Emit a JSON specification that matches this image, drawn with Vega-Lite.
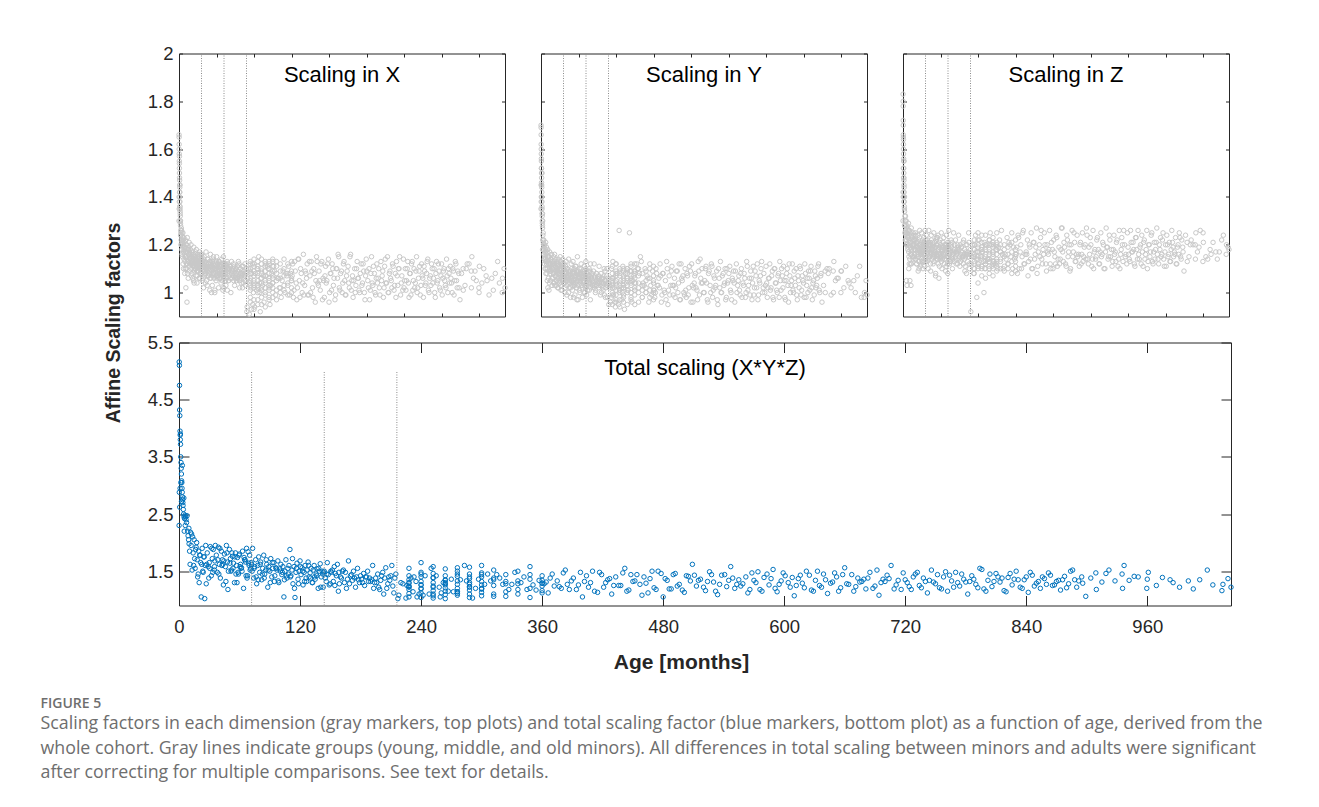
{
"$schema": "https://vega.github.io/schema/vega-lite/v6.json",
"padding": {"left": 40, "top": 43.5, "right": 10, "bottom": 10},
"config": {
  "font": "Liberation Sans",
  "view": {"stroke": "#262626", "strokeWidth": 1},
  "axis": {"grid": false, "domain": false, "tickColor": "#262626", "tickWidth": 1, "labelColor": "#262626", "labelFont": "Liberation Sans", "labelFontSize": 18.5, "labelFlush": false, "labelOverlap": false, "titleFont": "Liberation Sans", "titleColor": "#262626", "titleFontWeight": "bold"}
},
"title": {
  "text": "FIGURE 5",
  "subtitle": ["Scaling factors in each dimension (gray markers, top plots) and total scaling factor (blue markers, bottom plot) as a function of age, derived from the", "whole cohort. Gray lines indicate groups (young, middle, and old minors). All differences in total scaling between minors and adults were significant", "after correcting for multiple comparisons. See text for details."],
  "orient": "bottom", "anchor": "start", "frame": "bounds", "offset": 24, "dx": -62,
  "font": "Open Sans", "fontSize": 14, "fontWeight": 600, "color": "#6e6e6e",
  "subtitleFont": "Open Sans", "subtitleFontSize": 17.8, "subtitleColor": "#6e6e6e", "subtitleLineHeight": 24.5, "subtitlePadding": 4
},
"data": {"values": [
{"a":0.2,"x":1.66,"y":1.7,"z":1.83,"t":5.16},
{"a":0.4,"x":1.65,"y":1.69,"z":1.8,"t":5.1},
{"a":0.5,"x":1.62,"y":1.66,"z":1.78,"t":4.75},
{"a":0.6,"x":1.6,"y":1.62,"z":1.72,"t":4.32},
{"a":0.8,"x":1.58,"y":1.6,"z":1.7,"t":4.22},
{"a":1,"x":1.55,"y":1.58,"z":1.66,"t":3.95},
{"a":1.2,"x":1.54,"y":1.56,"z":1.65,"t":3.88},
{"a":1.3,"x":1.52,"y":1.55,"z":1.62,"t":3.8},
{"a":1.5,"x":1.5,"y":1.52,"z":1.6,"t":3.72},
{"a":1.7,"x":1.48,"y":1.5,"z":1.58,"t":3.5},
{"a":2,"x":1.47,"y":1.48,"z":1.56,"t":3.4},
{"a":2.2,"x":1.45,"y":1.45,"z":1.55,"t":3.3},
{"a":2.4,"x":1.44,"y":1.44,"z":1.52,"t":3.2},
{"a":2.6,"x":1.42,"y":1.42,"z":1.5,"t":3.08},
{"a":2.8,"x":1.4,"y":1.4,"z":1.48,"t":3.05},
{"a":3,"x":1.38,"y":1.38,"z":1.47,"t":2.95},
{"a":3.2,"x":1.36,"y":1.36,"z":1.45,"t":2.88},
{"a":3.4,"x":1.35,"y":1.35,"z":1.44,"t":2.8},
{"a":3.6,"x":1.34,"y":1.33,"z":1.42,"t":2.75},
{"a":3.8,"x":1.33,"y":1.32,"z":1.4,"t":2.7},
{"a":4,"x":1.32,"y":1.3,"z":1.38,"t":2.65},
{"a":4.3,"x":1.3,"y":1.29,"z":1.36,"t":2.58},
{"a":4.6,"x":1.29,"y":1.28,"z":1.35,"t":2.5},
{"a":5,"x":1.28,"y":1.27,"z":1.34,"t":2.45},
{"a":0.3,"x":1.4,"y":1.45,"z":1.42,"t":2.88},
{"a":0.7,"x":1.35,"y":1.38,"z":1.4,"t":2.62},
{"a":1.1,"x":1.38,"y":1.4,"z":1.52,"t":2.95},
{"a":0.1,"x":1.3,"y":1.35,"z":1.3,"t":2.3},
{"a":1.8,"x":1.42,"y":1.46,"z":1.48,"t":3.05},
{"a":2.5,"x":1.36,"y":1.4,"z":1.38,"t":2.72},
{"a":5.5,"x":1.26,"y":1.3,"z":1.28,"t":2.42},
{"a":6,"x":1.25,"y":1.24,"z":1.32,"t":2.48},
{"a":3.3,"x":1.45,"y":1.5,"z":1.55,"t":3.35},
{"a":4.8,"x":1.3,"y":1.33,"z":1.4,"t":2.78},
{"a":1.4,"x":1.57,"y":1.52,"z":1.64,"t":3.9},
{"a":6.5,"x":1.24,"y":1.22,"z":1.3,"t":2.45},
{"a":7,"x":1.22,"y":1.25,"z":1.28,"t":2.4},
{"a":8,"x":1.26,"y":1.2,"z":1.32,"t":2.47},
{"a":8.5,"x":1.2,"y":1.18,"z":1.26,"t":2.2},
{"a":9,"x":1.18,"y":1.22,"z":1.25,"t":2.12},
{"a":9.5,"x":1.25,"y":1.16,"z":1.3,"t":2.05},
{"a":10,"x":1.21,"y":1.19,"z":1.24,"t":1.98},
{"a":11,"x":1.15,"y":1.12,"z":1.05,"t":1.62},
{"a":11.5,"x":1.23,"y":1.2,"z":1.27,"t":2.18},
{"a":12,"x":1.19,"y":1.15,"z":1.22,"t":1.95},
{"a":13,"x":1.12,"y":1.1,"z":1.03,"t":1.52},
{"a":13.5,"x":1.22,"y":1.18,"z":1.25,"t":2.1},
{"a":14,"x":1.17,"y":1.14,"z":1.2,"t":1.82},
{"a":15,"x":1.2,"y":1.21,"z":1.23,"t":2.05},
{"a":16,"x":1.14,"y":1.1,"z":1.19,"t":1.55},
{"a":16.5,"x":1.18,"y":1.16,"z":1.24,"t":1.88},
{"a":17,"x":1.21,"y":1.13,"z":1.26,"t":1.92},
{"a":18,"x":1.16,"y":1.12,"z":1.17,"t":1.7},
{"a":19,"x":1.13,"y":1.08,"z":1.15,"t":1.45},
{"a":19.5,"x":1.19,"y":1.17,"z":1.22,"t":1.85},
{"a":20,"x":1.1,"y":1.05,"z":1.12,"t":1.3},
{"a":21,"x":1.17,"y":1.15,"z":1.2,"t":1.78},
{"a":22,"x":1.02,"y":1.02,"z":1.05,"t":1.05},
{"a":22.5,"x":1.15,"y":1.13,"z":1.21,"t":1.62},
{"a":23,"x":1.2,"y":1.14,"z":1.25,"t":1.9},
{"a":24,"x":1.12,"y":1.09,"z":1.16,"t":1.48},
{"a":25,"x":1.17,"y":1.12,"z":1.21,"t":1.75},
{"a":25.5,"x":0.96,"y":1.01,"z":1.03,"t":1.02},
{"a":26,"x":1.14,"y":1.15,"z":1.18,"t":1.6},
{"a":27,"x":1.08,"y":1.04,"z":1.12,"t":1.28},
{"a":28,"x":1.18,"y":1.1,"z":1.24,"t":1.82},
{"a":29,"x":1.13,"y":1.12,"z":1.17,"t":1.58},
{"a":30,"x":1.16,"y":1.08,"z":1.2,"t":1.65},
{"a":31,"x":1.19,"y":1.14,"z":1.23,"t":1.93},
{"a":32,"x":1.11,"y":1.09,"z":1.14,"t":1.42},
{"a":33,"x":1.15,"y":1.11,"z":1.19,"t":1.72},
{"a":34,"x":1.17,"y":1.16,"z":1.22,"t":1.88},
{"a":35,"x":1.12,"y":1.06,"z":1.15,"t":1.52},
{"a":35.5,"x":1.14,"y":1.13,"z":1.18,"t":1.68},
{"a":36,"x":1.18,"y":1.1,"z":1.22,"t":1.95},
{"a":37,"x":1.14,"y":1.1,"z":1.2,"t":1.78},
{"a":38,"x":1.1,"y":1.06,"z":1.16,"t":1.48},
{"a":39,"x":1.16,"y":1.12,"z":1.22,"t":1.92},
{"a":40,"x":1.12,"y":1.08,"z":1.18,"t":1.62},
{"a":41,"x":1.08,"y":1.04,"z":1.14,"t":1.38},
{"a":42,"x":1.15,"y":1.13,"z":1.2,"t":1.85},
{"a":43,"x":1.13,"y":1.09,"z":1.19,"t":1.7},
{"a":44,"x":1.06,"y":1.03,"z":1.12,"t":1.26},
{"a":45,"x":1.14,"y":1.11,"z":1.21,"t":1.8},
{"a":46,"x":1.11,"y":1.07,"z":1.17,"t":1.58},
{"a":47,"x":1.16,"y":1.14,"z":1.19,"t":1.95},
{"a":48,"x":1.12,"y":1.1,"z":1.16,"t":1.66},
{"a":49,"x":1.09,"y":1.05,"z":1.15,"t":1.5},
{"a":50,"x":1.15,"y":1.12,"z":1.22,"t":1.88},
{"a":51,"x":1.13,"y":1.08,"z":1.18,"t":1.72},
{"a":52,"x":1.1,"y":1.06,"z":1.13,"t":1.52},
{"a":53,"x":1.17,"y":1.11,"z":1.2,"t":1.76},
{"a":54,"x":1.12,"y":1.09,"z":1.17,"t":1.64},
{"a":55,"x":1.07,"y":1.02,"z":1.11,"t":1.3},
{"a":56,"x":1.14,"y":1.12,"z":1.19,"t":1.82},
{"a":57,"x":1.11,"y":1.08,"z":1.16,"t":1.6},
{"a":58,"x":1.13,"y":1.1,"z":1.21,"t":1.74},
{"a":59,"x":1.09,"y":1.04,"z":1.14,"t":1.45},
{"a":60,"x":1.15,"y":1.11,"z":1.18,"t":1.8},
{"a":61,"x":1.12,"y":1.07,"z":1.17,"t":1.62},
{"a":62,"x":1.1,"y":1.09,"z":1.15,"t":1.56},
{"a":63,"x":1.14,"y":1.13,"z":1.2,"t":1.85},
{"a":64,"x":1.06,"y":1.01,"z":1.1,"t":1.2},
{"a":65,"x":1.13,"y":1.1,"z":1.17,"t":1.7},
{"a":66,"x":1.11,"y":1.06,"z":1.19,"t":1.66},
{"a":67,"x":1.16,"y":1.12,"z":1.21,"t":1.9},
{"a":68,"x":1.08,"y":1.05,"z":1.13,"t":1.42},
{"a":69,"x":1.12,"y":1.08,"z":1.16,"t":1.64},
{"a":70,"x":1.14,"y":1.11,"z":1.18,"t":1.78},
{"a":71,"x":1.1,"y":1.07,"z":1.14,"t":1.55},
{"a":40.5,"x":1.13,"y":1.15,"z":1.24,"t":1.9},
{"a":44.5,"x":1.11,"y":1.12,"z":1.15,"t":1.68},
{"a":48.5,"x":1.04,"y":1.03,"z":1.09,"t":1.18},
{"a":52.5,"x":1.14,"y":1.09,"z":1.23,"t":1.82},
{"a":56.5,"x":1.09,"y":1.06,"z":1.12,"t":1.45},
{"a":60.5,"x":1.12,"y":1.04,"z":1.18,"t":1.58},
{"a":64.5,"x":1.15,"y":1.1,"z":1.19,"t":1.74},
{"a":68.5,"x":1.13,"y":1.12,"z":1.21,"t":1.84},
{"a":50.5,"x":1.11,"y":1.1,"z":1.13,"t":1.64},
{"a":58.5,"x":1.07,"y":1.08,"z":1.16,"t":1.48},
{"a":72,"x":1.12,"y":1.07,"z":1.2,"t":1.62},
{"a":73,"x":1.15,"y":1.1,"z":1.22,"t":1.9},
{"a":74,"x":1.08,"y":1.04,"z":1.15,"t":1.38},
{"a":75,"x":1.11,"y":1.08,"z":1.19,"t":1.58},
{"a":76,"x":1.13,"y":1.06,"z":1.21,"t":1.7},
{"a":77,"x":1.06,"y":1.02,"z":1.13,"t":1.28},
{"a":78,"x":1.1,"y":1.09,"z":1.18,"t":1.6},
{"a":79,"x":1.14,"y":1.11,"z":1.17,"t":1.75},
{"a":80,"x":1.09,"y":1.05,"z":1.16,"t":1.48},
{"a":81,"x":1.12,"y":1.08,"z":1.2,"t":1.66},
{"a":82,"x":1.07,"y":1.03,"z":1.14,"t":1.35},
{"a":83,"x":1.11,"y":1.07,"z":1.18,"t":1.55},
{"a":84,"x":1.13,"y":1.1,"z":1.21,"t":1.78},
{"a":85,"x":1.08,"y":1.06,"z":1.15,"t":1.45},
{"a":86,"x":1.1,"y":1.04,"z":1.19,"t":1.52},
{"a":87,"x":1.12,"y":1.09,"z":1.17,"t":1.62},
{"a":88,"x":1.05,"y":1,"z":1.12,"t":1.22},
{"a":89,"x":1.11,"y":1.07,"z":1.2,"t":1.58},
{"a":90,"x":1.09,"y":1.05,"z":1.16,"t":1.5},
{"a":91,"x":1.14,"y":1.08,"z":1.22,"t":1.72},
{"a":92,"x":1.07,"y":1.04,"z":1.14,"t":1.4},
{"a":93,"x":1.1,"y":1.06,"z":1.18,"t":1.55},
{"a":94,"x":1.12,"y":1.09,"z":1.19,"t":1.65},
{"a":95,"x":1.08,"y":1.02,"z":1.15,"t":1.42},
{"a":96,"x":1.11,"y":1.07,"z":1.17,"t":1.56},
{"a":97,"x":1.09,"y":1.05,"z":1.2,"t":1.52},
{"a":98,"x":1.13,"y":1.1,"z":1.16,"t":1.68},
{"a":99,"x":1.06,"y":1.03,"z":1.13,"t":1.3},
{"a":100,"x":1.1,"y":1.06,"z":1.18,"t":1.54},
{"a":101,"x":1.12,"y":1.08,"z":1.21,"t":1.62},
{"a":102,"x":1.08,"y":1.04,"z":1.15,"t":1.44},
{"a":103,"x":1.11,"y":1.09,"z":1.17,"t":1.58},
{"a":104,"x":1,"y":0.98,"z":1.07,"t":1.05},
{"a":105,"x":1.09,"y":1.05,"z":1.19,"t":1.5},
{"a":106,"x":1.13,"y":1.07,"z":1.22,"t":1.7},
{"a":107,"x":1.07,"y":1.03,"z":1.14,"t":1.38},
{"a":108,"x":1.1,"y":1.08,"z":1.16,"t":1.55},
{"a":109,"x":1.12,"y":1.06,"z":1.2,"t":1.6},
{"a":110,"x":1.15,"y":1.11,"z":1.23,"t":1.88},
{"a":111,"x":1.08,"y":1.04,"z":1.15,"t":1.42},
{"a":112,"x":1.1,"y":1.07,"z":1.18,"t":1.52},
{"a":113,"x":1.06,"y":1.02,"z":1.12,"t":1.28},
{"a":114,"x":1.11,"y":1.09,"z":1.17,"t":1.58},
{"a":115,"x":1.01,"y":0.97,"z":1.06,"t":1.04},
{"a":116,"x":1.09,"y":1.05,"z":1.19,"t":1.48},
{"a":117,"x":1.12,"y":1.08,"z":1.21,"t":1.64},
{"a":118,"x":1.07,"y":1.03,"z":1.14,"t":1.36},
{"a":119,"x":1.1,"y":1.06,"z":1.16,"t":1.5},
{"a":120,"x":1.13,"y":1.09,"z":1.2,"t":1.68},
{"a":121,"x":1.08,"y":1.05,"z":1.15,"t":1.44},
{"a":122,"x":1.11,"y":1.07,"z":1.18,"t":1.56},
{"a":123,"x":1.06,"y":1.01,"z":1.13,"t":1.26},
{"a":124,"x":1.09,"y":1.06,"z":1.17,"t":1.48},
{"a":125,"x":1.12,"y":1.08,"z":1.19,"t":1.6},
{"a":126,"x":1.07,"y":1.04,"z":1.14,"t":1.38},
{"a":127,"x":1.1,"y":1.05,"z":1.18,"t":1.52},
{"a":128,"x":1.13,"y":1.1,"z":1.21,"t":1.66},
{"a":129,"x":1.08,"y":1.03,"z":1.15,"t":1.4},
{"a":130,"x":1.09,"y":1.07,"z":1.16,"t":1.47},
{"a":131,"x":1.11,"y":1.06,"z":1.19,"t":1.55},
{"a":132,"x":1.06,"y":1.02,"z":1.12,"t":1.3},
{"a":133,"x":1.1,"y":1.08,"z":1.17,"t":1.52},
{"a":134,"x":1.12,"y":1.07,"z":1.2,"t":1.6},
{"a":135,"x":1.07,"y":1.04,"z":1.14,"t":1.36},
{"a":136,"x":1.09,"y":1.05,"z":1.16,"t":1.45},
{"a":137,"x":1.11,"y":1.08,"z":1.18,"t":1.54},
{"a":138,"x":1.05,"y":1,"z":1.11,"t":1.2},
{"a":139,"x":1.1,"y":1.06,"z":1.19,"t":1.5},
{"a":140,"x":1.12,"y":1.09,"z":1.2,"t":1.63},
{"a":141,"x":1.08,"y":1.03,"z":1.15,"t":1.4},
{"a":144,"x":1.1,"y":1.06,"z":1.18,"t":1.5},
{"a":145,"x":1.07,"y":1.03,"z":1.15,"t":1.38},
{"a":147,"x":1.12,"y":1.08,"z":1.2,"t":1.65},
{"a":148,"x":1.08,"y":1.05,"z":1.16,"t":1.44},
{"a":149,"x":1.05,"y":1.01,"z":1.12,"t":1.26},
{"a":151,"x":1.09,"y":1.06,"z":1.18,"t":1.48},
{"a":152,"x":1.11,"y":1.07,"z":1.17,"t":1.52},
{"a":153,"x":1.06,"y":1.04,"z":1.13,"t":1.32},
{"a":155,"x":1.1,"y":1.05,"z":1.19,"t":1.46},
{"a":156,"x":1.08,"y":1.07,"z":1.15,"t":1.42},
{"a":157,"x":1.12,"y":1.09,"z":1.21,"t":1.62},
{"a":159,"x":1.05,"y":1.02,"z":1.14,"t":1.28},
{"a":160,"x":1.09,"y":1.04,"z":1.17,"t":1.4},
{"a":161,"x":1.07,"y":1.06,"z":1.16,"t":1.38},
{"a":163,"x":1.1,"y":1.08,"z":1.18,"t":1.52},
{"a":164,"x":1.06,"y":1.03,"z":1.13,"t":1.3},
{"a":165,"x":1.11,"y":1.05,"z":1.2,"t":1.48},
{"a":167,"x":1.08,"y":1.04,"z":1.15,"t":1.36},
{"a":168,"x":1.13,"y":1.09,"z":1.22,"t":1.68},
{"a":169,"x":1.06,"y":1.02,"z":1.14,"t":1.28},
{"a":171,"x":1.09,"y":1.06,"z":1.17,"t":1.44},
{"a":172,"x":1.07,"y":1.03,"z":1.16,"t":1.34},
{"a":173,"x":1.1,"y":1.07,"z":1.18,"t":1.5},
{"a":175,"x":1.05,"y":1.01,"z":1.12,"t":1.22},
{"a":176,"x":1.08,"y":1.05,"z":1.17,"t":1.4},
{"a":177,"x":1.11,"y":1.08,"z":1.19,"t":1.55},
{"a":179,"x":1.06,"y":1.03,"z":1.14,"t":1.3},
{"a":180,"x":1.09,"y":1.04,"z":1.18,"t":1.42},
{"a":181,"x":1.07,"y":1.06,"z":1.15,"t":1.36},
{"a":183,"x":1.1,"y":1.05,"z":1.2,"t":1.46},
{"a":184,"x":1.05,"y":1.02,"z":1.13,"t":1.25},
{"a":185,"x":1.08,"y":1.07,"z":1.16,"t":1.4},
{"a":187,"x":1.11,"y":1.06,"z":1.19,"t":1.5},
{"a":188,"x":1.06,"y":1.04,"z":1.14,"t":1.32},
{"a":189,"x":1.09,"y":1.03,"z":1.17,"t":1.38},
{"a":191,"x":1.07,"y":1.05,"z":1.15,"t":1.35},
{"a":192,"x":1.12,"y":1.08,"z":1.21,"t":1.6},
{"a":193,"x":1.05,"y":1,"z":1.12,"t":1.2},
{"a":195,"x":1.08,"y":1.04,"z":1.16,"t":1.38},
{"a":196,"x":1.06,"y":1.03,"z":1.14,"t":1.3},
{"a":197,"x":1.1,"y":1.06,"z":1.18,"t":1.45},
{"a":199,"x":1.04,"y":1.01,"z":1.11,"t":1.18},
{"a":200,"x":1.07,"y":1.04,"z":1.15,"t":1.34},
{"a":201,"x":1.09,"y":1.07,"z":1.17,"t":1.42},
{"a":203,"x":1.02,"y":0.99,"z":1.08,"t":1.1},
{"a":204,"x":1.08,"y":1.05,"z":1.16,"t":1.38},
{"a":205,"x":1.11,"y":1.09,"z":1.2,"t":1.56},
{"a":207,"x":1.06,"y":1.02,"z":1.13,"t":1.28},
{"a":208,"x":1.09,"y":1.05,"z":1.17,"t":1.4},
{"a":209,"x":1.07,"y":1.04,"z":1.15,"t":1.34},
{"a":211,"x":1.12,"y":1.1,"z":1.21,"t":1.6},
{"a":212,"x":1.05,"y":1.03,"z":1.12,"t":1.24},
{"a":213,"x":1.03,"y":0.98,"z":1.1,"t":1.12},
{"a":214,"x":1.08,"y":1.06,"z":1.16,"t":1.38},
{"a":215,"x":1.1,"y":1.04,"z":1.18,"t":1.45},
{"a":228,"x":0.98,"y":0.99,"z":1.08,"t":1.05},
{"a":228,"x":1.01,"y":1,"z":1.1,"t":1.11},
{"a":228,"x":1.03,"y":1.02,"z":1.12,"t":1.18},
{"a":228,"x":1.05,"y":1.03,"z":1.13,"t":1.23},
{"a":228,"x":1.06,"y":1.05,"z":1.15,"t":1.29},
{"a":228,"x":1.08,"y":1.06,"z":1.16,"t":1.35},
{"a":228,"x":1.1,"y":1.08,"z":1.18,"t":1.42},
{"a":228,"x":1.12,"y":1.11,"z":1.2,"t":1.55},
{"a":240,"x":0.93,"y":0.96,"z":1.04,"t":1.04},
{"a":240,"x":1.02,"y":0.99,"z":1.11,"t":1.12},
{"a":240,"x":1.04,"y":1.01,"z":1.12,"t":1.19},
{"a":240,"x":1.05,"y":1.04,"z":1.14,"t":1.26},
{"a":240,"x":1.07,"y":1.05,"z":1.15,"t":1.32},
{"a":240,"x":1.09,"y":1.07,"z":1.17,"t":1.4},
{"a":240,"x":1.11,"y":1.09,"z":1.19,"t":1.48},
{"a":240,"x":1.14,"y":1.12,"z":1.22,"t":1.65},
{"a":252,"x":0.97,"y":0.97,"z":1.07,"t":1.03},
{"a":252,"x":1,"y":1,"z":1.1,"t":1.1},
{"a":252,"x":1.03,"y":1.01,"z":1.11,"t":1.16},
{"a":252,"x":1.05,"y":1.03,"z":1.14,"t":1.24},
{"a":252,"x":1.07,"y":1.04,"z":1.15,"t":1.3},
{"a":252,"x":1.08,"y":1.07,"z":1.17,"t":1.38},
{"a":252,"x":1.1,"y":1.08,"z":1.19,"t":1.46},
{"a":252,"x":1.13,"y":1.1,"z":1.21,"t":1.58},
{"a":264,"x":0.95,"y":0.98,"z":1.06,"t":1.02},
{"a":264,"x":1.01,"y":0.99,"z":1.1,"t":1.09},
{"a":264,"x":1.02,"y":1.02,"z":1.12,"t":1.15},
{"a":264,"x":1.04,"y":1.03,"z":1.13,"t":1.21},
{"a":264,"x":1.06,"y":1.05,"z":1.15,"t":1.28},
{"a":264,"x":1.08,"y":1.06,"z":1.16,"t":1.34},
{"a":264,"x":1.09,"y":1.09,"z":1.18,"t":1.42},
{"a":264,"x":1.12,"y":1.1,"z":1.2,"t":1.54},
{"a":276,"x":0.99,"y":1,"z":1.08,"t":1.08},
{"a":276,"x":1.02,"y":1.01,"z":1.11,"t":1.14},
{"a":276,"x":1.04,"y":1.03,"z":1.13,"t":1.2},
{"a":276,"x":1.05,"y":1.05,"z":1.14,"t":1.27},
{"a":276,"x":1.07,"y":1.06,"z":1.16,"t":1.33},
{"a":276,"x":1.09,"y":1.08,"z":1.18,"t":1.41},
{"a":276,"x":1.11,"y":1.1,"z":1.2,"t":1.5},
{"a":276,"x":1.13,"y":1.09,"z":1.22,"t":1.56},
{"a":288,"x":0.98,"y":0.98,"z":1.07,"t":1.04},
{"a":288,"x":1.01,"y":1,"z":1.1,"t":1.1},
{"a":288,"x":1.03,"y":1.03,"z":1.12,"t":1.17},
{"a":288,"x":1.05,"y":1.04,"z":1.13,"t":1.23},
{"a":288,"x":1.06,"y":1.06,"z":1.15,"t":1.3},
{"a":288,"x":1.08,"y":1.07,"z":1.17,"t":1.37},
{"a":288,"x":1.1,"y":1.09,"z":1.19,"t":1.45},
{"a":288,"x":1.12,"y":1.11,"z":1.21,"t":1.57},
{"a":300,"x":1,"y":0.99,"z":1.09,"t":1.07},
{"a":300,"x":1.02,"y":1.01,"z":1.11,"t":1.13},
{"a":300,"x":1.04,"y":1.02,"z":1.13,"t":1.19},
{"a":300,"x":1.06,"y":1.04,"z":1.14,"t":1.26},
{"a":300,"x":1.07,"y":1.06,"z":1.16,"t":1.32},
{"a":300,"x":1.09,"y":1.08,"z":1.18,"t":1.4},
{"a":300,"x":1.11,"y":1.09,"z":1.19,"t":1.47},
{"a":300,"x":1.13,"y":1.12,"z":1.21,"t":1.6},
{"a":312,"x":1.01,"y":1,"z":1.1,"t":1.1},
{"a":312,"x":1.05,"y":1.04,"z":1.14,"t":1.25},
{"a":312,"x":1.08,"y":1.07,"z":1.17,"t":1.38},
{"a":312,"x":1.11,"y":1.1,"z":1.2,"t":1.52},
{"a":324,"x":1.02,"y":1.01,"z":1.11,"t":1.14},
{"a":324,"x":1.06,"y":1.03,"z":1.15,"t":1.28},
{"a":324,"x":1.09,"y":1.08,"z":1.18,"t":1.44},
{"a":324,"x":1,"y":0.98,"z":1.09,"t":1.06},
{"a":336,"x":1.03,"y":1.02,"z":1.12,"t":1.18},
{"a":336,"x":1.07,"y":1.05,"z":1.16,"t":1.33},
{"a":336,"x":1.1,"y":1.09,"z":1.19,"t":1.5},
{"a":336,"x":1.01,"y":1,"z":1.1,"t":1.1},
{"a":348,"x":1.04,"y":1.01,"z":1.13,"t":1.2},
{"a":348,"x":1.08,"y":1.06,"z":1.17,"t":1.36},
{"a":348,"x":1.12,"y":1.1,"z":1.21,"t":1.58},
{"a":348,"x":0.99,"y":0.98,"z":1.08,"t":1.04},
{"a":360,"x":1.02,"y":1,"z":1.11,"t":1.12},
{"a":360,"x":1.06,"y":1.04,"z":1.15,"t":1.29},
{"a":360,"x":1.09,"y":1.07,"z":1.18,"t":1.42},
{"a":360,"x":1.05,"y":1.05,"z":1.13,"t":1.24},
{"a":220,"x":1.06,"y":1.03,"z":1.15,"t":1.3},
{"a":217,"x":0.92,"y":0.95,"z":0.92,"t":1.02},
{"a":233,"x":1.08,"y":1.06,"z":1.17,"t":1.4},
{"a":236,"x":0.95,"y":0.96,"z":0.98,"t":1.05},
{"a":250,"x":1.1,"y":1.26,"z":1.18,"t":1.55},
{"a":258,"x":1.04,"y":1.02,"z":1.13,"t":1.22},
{"a":259,"x":1,"y":0.97,"z":1,"t":1.05},
{"a":270,"x":1.07,"y":1.08,"z":1.14,"t":1.36},
{"a":283,"x":1.11,"y":1.25,"z":1.2,"t":1.6},
{"a":294,"x":1.03,"y":1.05,"z":1.12,"t":1.2},
{"a":306,"x":1.09,"y":1.12,"z":1.19,"t":1.45},
{"a":318,"x":1.06,"y":1.15,"z":1.16,"t":1.38},
{"a":330,"x":1.05,"y":1.03,"z":1.14,"t":1.27},
{"a":342,"x":1.08,"y":1.06,"z":1.2,"t":1.4},
{"a":362,"x":1.07,"y":1.01,"z":1.16,"t":1.28},
{"a":366,"x":0.98,"y":1,"z":1.08,"t":1.12},
{"a":370,"x":1.13,"y":1.08,"z":1.23,"t":1.45},
{"a":375,"x":1.04,"y":1.03,"z":1.17,"t":1.33},
{"a":379,"x":1.02,"y":1.02,"z":1.1,"t":1.2},
{"a":383,"x":1.14,"y":1.07,"z":1.25,"t":1.52},
{"a":387,"x":0.98,"y":0.99,"z":1.12,"t":1.18},
{"a":391,"x":1.08,"y":1.08,"z":1.16,"t":1.38},
{"a":396,"x":1.04,"y":1,"z":1.16,"t":1.26},
{"a":400,"x":0.99,"y":0.97,"z":1.07,"t":1.05},
{"a":404,"x":1.09,"y":1.1,"z":1.2,"t":1.42},
{"a":408,"x":1.06,"y":1.01,"z":1.14,"t":1.3},
{"a":412,"x":0.99,"y":0.99,"z":1.1,"t":1.15},
{"a":417,"x":1.13,"y":1.09,"z":1.21,"t":1.48},
{"a":421,"x":1,"y":1.03,"z":1.14,"t":1.22},
{"a":425,"x":1.09,"y":1.03,"z":1.19,"t":1.35},
{"a":429,"x":0.98,"y":0.98,"z":1.08,"t":1.1},
{"a":433,"x":1.08,"y":1.09,"z":1.17,"t":1.4},
{"a":438,"x":1.05,"y":1,"z":1.15,"t":1.25},
{"a":442,"x":1.13,"y":1.12,"z":1.26,"t":1.55},
{"a":446,"x":1.03,"y":0.97,"z":1.12,"t":1.17},
{"a":450,"x":1.05,"y":1.06,"z":1.16,"t":1.32},
{"a":454,"x":1.12,"y":1.07,"z":1.2,"t":1.44},
{"a":459,"x":0.97,"y":0.99,"z":1.09,"t":1.08},
{"a":463,"x":1.05,"y":1.01,"z":1.17,"t":1.29},
{"a":467,"x":1.07,"y":1.08,"z":1.18,"t":1.37},
{"a":471,"x":1.04,"y":0.99,"z":1.12,"t":1.21},
{"a":475,"x":1.12,"y":1.11,"z":1.21,"t":1.5},
{"a":480,"x":0.96,"y":0.96,"z":1.1,"t":1.05},
{"a":484,"x":1.08,"y":1.03,"z":1.17,"t":1.34},
{"a":488,"x":1.01,"y":1.02,"z":1.12,"t":1.19},
{"a":492,"x":1.1,"y":1.07,"z":1.23,"t":1.46},
{"a":496,"x":1.06,"y":1.02,"z":1.14,"t":1.27},
{"a":501,"x":0.99,"y":0.97,"z":1.12,"t":1.13},
{"a":505,"x":1.1,"y":1.09,"z":1.18,"t":1.41},
{"a":509,"x":1.16,"y":1.14,"z":1.27,"t":1.62},
{"a":513,"x":1.02,"y":1.04,"z":1.13,"t":1.24},
{"a":517,"x":1.08,"y":1.04,"z":1.19,"t":1.36},
{"a":522,"x":1,"y":1,"z":1.11,"t":1.16},
{"a":526,"x":1.12,"y":1.1,"z":1.22,"t":1.49},
{"a":530,"x":1.05,"y":1.04,"z":1.17,"t":1.31},
{"a":534,"x":0.99,"y":0.96,"z":1.09,"t":1.09},
{"a":538,"x":1.09,"y":1.09,"z":1.2,"t":1.43},
{"a":543,"x":1.04,"y":1,"z":1.15,"t":1.23},
{"a":547,"x":1.15,"y":1.11,"z":1.25,"t":1.58},
{"a":551,"x":1.01,"y":1.01,"z":1.13,"t":1.2},
{"a":555,"x":1.07,"y":1.06,"z":1.16,"t":1.35},
{"a":559,"x":1.05,"y":1.03,"z":1.15,"t":1.28},
{"a":564,"x":1,"y":0.97,"z":1.11,"t":1.12},
{"a":568,"x":1.1,"y":1.1,"z":1.21,"t":1.47},
{"a":572,"x":1.06,"y":1.02,"z":1.16,"t":1.3},
{"a":576,"x":1.01,"y":1,"z":1.13,"t":1.18},
{"a":580,"x":1.08,"y":1.07,"z":1.19,"t":1.39},
{"a":585,"x":1.03,"y":1.03,"z":1.14,"t":1.26},
{"a":589,"x":1.12,"y":1.1,"z":1.24,"t":1.53},
{"a":593,"x":1,"y":0.98,"z":1.12,"t":1.14},
{"a":597,"x":1.07,"y":1.04,"z":1.16,"t":1.33},
{"a":601,"x":1.09,"y":1.08,"z":1.2,"t":1.42},
{"a":606,"x":1.02,"y":1.01,"z":1.14,"t":1.22},
{"a":610,"x":0.97,"y":0.97,"z":1.1,"t":1.07},
{"a":614,"x":1.08,"y":1.05,"z":1.18,"t":1.37},
{"a":618,"x":1.04,"y":1.04,"z":1.15,"t":1.29},
{"a":622,"x":1.11,"y":1.09,"z":1.23,"t":1.5},
{"a":627,"x":1,"y":1,"z":1.12,"t":1.17},
{"a":631,"x":1.06,"y":1.05,"z":1.17,"t":1.34},
{"a":635,"x":1.04,"y":1.01,"z":1.15,"t":1.25},
{"a":639,"x":1.1,"y":1.08,"z":1.21,"t":1.45},
{"a":643,"x":0.99,"y":0.98,"z":1.1,"t":1.11},
{"a":648,"x":1.05,"y":1.03,"z":1.17,"t":1.31},
{"a":652,"x":1.09,"y":1.06,"z":1.19,"t":1.4},
{"a":656,"x":1.02,"y":1,"z":1.14,"t":1.21},
{"a":660,"x":1.14,"y":1.11,"z":1.24,"t":1.56},
{"a":664,"x":1.04,"y":1.03,"z":1.15,"t":1.27},
{"a":669,"x":1,"y":0.99,"z":1.11,"t":1.15},
{"a":673,"x":1.08,"y":1.06,"z":1.18,"t":1.38},
{"a":677,"x":1.06,"y":1.04,"z":1.16,"t":1.32},
{"a":681,"x":1.02,"y":0.99,"z":1.13,"t":1.19},
{"a":685,"x":1.11,"y":1.09,"z":1.22,"t":1.48},
{"a":690,"x":1.03,"y":1.02,"z":1.14,"t":1.24},
{"a":694,"x":0.98,"y":0.97,"z":1.1,"t":1.08},
{"a":698,"x":1.07,"y":1.05,"z":1.18,"t":1.36},
{"a":702,"x":1.1,"y":1.07,"z":1.2,"t":1.43},
{"a":706,"x":1.15,"y":1.13,"z":1.26,"t":1.6},
{"a":711,"x":1.04,"y":1.02,"z":1.15,"t":1.26},
{"a":716,"x":1.01,"y":1,"z":1.12,"t":1.18},
{"a":722,"x":1.05,"y":1.04,"z":1.16,"t":1.3},
{"a":726,"x":1.01,"y":1.02,"z":1.13,"t":1.18},
{"a":730,"x":1.1,"y":1.06,"z":1.21,"t":1.45},
{"a":734,"x":1.04,"y":1.01,"z":1.17,"t":1.25},
{"a":738,"x":1.08,"y":1.07,"z":1.18,"t":1.38},
{"a":742,"x":0.99,"y":0.98,"z":1.11,"t":1.12},
{"a":746,"x":1.13,"y":1.1,"z":1.23,"t":1.52},
{"a":750,"x":1.05,"y":1.04,"z":1.14,"t":1.28},
{"a":754,"x":1.02,"y":1.01,"z":1.16,"t":1.21},
{"a":758,"x":1.09,"y":1.07,"z":1.19,"t":1.4},
{"a":762,"x":1,"y":0.98,"z":1.12,"t":1.15},
{"a":766,"x":1.06,"y":1.05,"z":1.17,"t":1.33},
{"a":770,"x":1.11,"y":1.1,"z":1.21,"t":1.48},
{"a":774,"x":1.03,"y":1.02,"z":1.14,"t":1.24},
{"a":778,"x":1.07,"y":1.05,"z":1.18,"t":1.36},
{"a":782,"x":0.98,"y":0.97,"z":1.1,"t":1.1},
{"a":786,"x":1.09,"y":1.08,"z":1.2,"t":1.42},
{"a":790,"x":1.04,"y":1.03,"z":1.15,"t":1.27},
{"a":794,"x":1.13,"y":1.12,"z":1.24,"t":1.55},
{"a":798,"x":1.01,"y":1,"z":1.13,"t":1.19},
{"a":802,"x":1.06,"y":1.05,"z":1.17,"t":1.34},
{"a":806,"x":1.03,"y":1.01,"z":1.14,"t":1.23},
{"a":810,"x":1.1,"y":1.09,"z":1.21,"t":1.46},
{"a":814,"x":1.06,"y":1.03,"z":1.16,"t":1.31},
{"a":818,"x":1,"y":0.99,"z":1.12,"t":1.16},
{"a":822,"x":1.08,"y":1.07,"z":1.18,"t":1.39},
{"a":826,"x":1.04,"y":1.02,"z":1.15,"t":1.26},
{"a":830,"x":1.12,"y":1.1,"z":1.22,"t":1.5},
{"a":834,"x":1.02,"y":1.01,"z":1.14,"t":1.22},
{"a":838,"x":1.07,"y":1.05,"z":1.17,"t":1.35},
{"a":842,"x":0.99,"y":0.98,"z":1.11,"t":1.13},
{"a":846,"x":1.09,"y":1.08,"z":1.2,"t":1.43},
{"a":850,"x":1.05,"y":1.03,"z":1.16,"t":1.29},
{"a":854,"x":1.02,"y":1,"z":1.13,"t":1.2},
{"a":858,"x":1.07,"y":1.06,"z":1.18,"t":1.37},
{"a":862,"x":1.1,"y":1.09,"z":1.21,"t":1.47},
{"a":866,"x":1.04,"y":1.02,"z":1.15,"t":1.25},
{"a":870,"x":1.06,"y":1.04,"z":1.16,"t":1.32},
{"a":874,"x":1,"y":0.99,"z":1.12,"t":1.17},
{"a":878,"x":1.09,"y":1.07,"z":1.19,"t":1.41},
{"a":882,"x":1.05,"y":1.03,"z":1.16,"t":1.28},
{"a":886,"x":1.12,"y":1.11,"z":1.23,"t":1.52},
{"a":890,"x":1.02,"y":1.01,"z":1.14,"t":1.22},
{"a":895,"x":1.08,"y":1.07,"z":1.19,"t":1.4},
{"a":899,"x":0.97,"y":0.96,"z":1.09,"t":1.06},
{"a":909,"x":1.1,"y":1.09,"z":1.21,"t":1.47},
{"a":909.5,"x":1.01,"y":1,"z":1.13,"t":1.18},
{"a":919,"x":1.1,"y":1.08,"z":1.2,"t":1.46},
{"a":922,"x":1.12,"y":1.1,"z":1.22,"t":1.52},
{"a":935,"x":1.09,"y":1.09,"z":1.2,"t":1.45},
{"a":935.5,"x":1.02,"y":1,"z":1.14,"t":1.2},
{"a":937,"x":1.15,"y":1.13,"z":1.25,"t":1.6},
{"a":942,"x":1.06,"y":1.05,"z":1.17,"t":1.34},
{"a":947,"x":1.09,"y":1.06,"z":1.19,"t":1.41},
{"a":959.5,"x":1.02,"y":1,"z":1.13,"t":1.2},
{"a":961,"x":1.11,"y":1.09,"z":1.21,"t":1.48},
{"a":969,"x":1.04,"y":1.02,"z":1.15,"t":1.25},
{"a":982.6,"x":1.07,"y":1.05,"z":1.18,"t":1.35},
{"a":985.6,"x":1.05,"y":1.04,"z":1.16,"t":1.3},
{"a":1000.7,"x":1.06,"y":1.05,"z":1.17,"t":1.33},
{"a":1005.6,"x":1.01,"y":1,"z":1.14,"t":1.19},
{"a":1019.5,"x":1.13,"y":1.11,"z":1.22,"t":1.52},
{"a":1034,"x":1,"y":0.98,"z":1.16,"t":1.16},
{"a":1035,"x":1.06,"y":1,"z":1.2,"t":1.27},
{"a":1043,"x":1.02,"y":0.99,"z":1.18,"t":1.22},
{"a":5.2,"x":1.24,"y":1.18,"z":1.28,"t":2.2},
{"a":6.2,"x":1.2,"y":1.22,"z":1.25,"t":2.3},
{"a":7.5,"x":1.27,"y":1.21,"z":1.22,"t":2.35},
{"a":9.8,"x":1.16,"y":1.2,"z":1.3,"t":2.25},
{"a":10.5,"x":1.22,"y":1.14,"z":1.2,"t":1.85},
{"a":12.5,"x":1.25,"y":1.17,"z":1.28,"t":2.15},
{"a":14.5,"x":1.1,"y":1.13,"z":1.23,"t":1.6},
{"a":15.5,"x":1.23,"y":1.08,"z":1.18,"t":1.72},
{"a":17.5,"x":1.19,"y":1.19,"z":1.29,"t":2},
{"a":18.5,"x":1.08,"y":1.12,"z":1.1,"t":1.4},
{"a":20.5,"x":1.22,"y":1.1,"z":1.26,"t":1.78},
{"a":21.5,"x":1.15,"y":1.18,"z":1.14,"t":1.65},
{"a":23.5,"x":1.1,"y":1.06,"z":1.19,"t":1.5},
{"a":24.5,"x":1.2,"y":1.15,"z":1.12,"t":1.75},
{"a":26.5,"x":1.23,"y":1.12,"z":1.27,"t":1.95},
{"a":27.5,"x":1.12,"y":1.17,"z":1.16,"t":1.62},
{"a":29.5,"x":1.06,"y":1.09,"z":1.22,"t":1.38},
{"a":30.5,"x":1.18,"y":1.05,"z":1.15,"t":1.55},
{"a":32.5,"x":1.21,"y":1.14,"z":1.25,"t":1.9},
{"a":33.5,"x":1.09,"y":1.11,"z":1.2,"t":1.48},
{"a":35.2,"x":1.16,"y":1.03,"z":1.24,"t":1.58},
{"a":38.5,"x":1.2,"y":1.12,"z":1.14,"t":1.7},
{"a":39.5,"x":1.07,"y":1.08,"z":1.25,"t":1.45},
{"a":42.5,"x":1.17,"y":1.04,"z":1.21,"t":1.6},
{"a":43.5,"x":1.12,"y":1.16,"z":1.12,"t":1.62},
{"a":46.5,"x":1.05,"y":1.07,"z":1.18,"t":1.32},
{"a":47.5,"x":1.19,"y":1.09,"z":1.24,"t":1.82},
{"a":51.5,"x":1.1,"y":1.13,"z":1.1,"t":1.5},
{"a":53.5,"x":1.15,"y":1.02,"z":1.26,"t":1.55},
{"a":55.5,"x":1.18,"y":1.14,"z":1.17,"t":1.75},
{"a":57.5,"x":1.04,"y":1.05,"z":1.2,"t":1.3},
{"a":59.5,"x":1.16,"y":1.1,"z":1.25,"t":1.78},
{"a":61.5,"x":1.09,"y":1.15,"z":1.13,"t":1.55},
{"a":62.5,"x":1.13,"y":1.03,"z":1.22,"t":1.5},
{"a":65.5,"x":1.17,"y":1.12,"z":1.16,"t":1.7},
{"a":66.5,"x":1.06,"y":1.08,"z":1.23,"t":1.42},
{"a":67.5,"x":1.11,"y":1.01,"z":1.19,"t":1.38},
{"a":69.5,"x":1.14,"y":1.14,"z":1.11,"t":1.6},
{"a":70.5,"x":1.08,"y":1.09,"z":1.26,"t":1.52},
{"a":71.5,"x":1.16,"y":1.05,"z":1.2,"t":1.65},
{"a":72.5,"x":1.16,"y":1.04,"z":1.13,"t":1.5},
{"a":74.5,"x":1.05,"y":1.12,"z":1.24,"t":1.55},
{"a":76.5,"x":1.12,"y":1,"z":1.17,"t":1.4},
{"a":78.5,"x":1.02,"y":1.08,"z":1.22,"t":1.35},
{"a":80.5,"x":1.15,"y":1.13,"z":1.1,"t":1.62},
{"a":82.5,"x":1.09,"y":0.99,"z":1.26,"t":1.45},
{"a":84.5,"x":1.04,"y":1.1,"z":1.15,"t":1.38},
{"a":86.5,"x":1.17,"y":1.06,"z":1.2,"t":1.7},
{"a":88.5,"x":1.1,"y":1.14,"z":1.09,"t":1.52},
{"a":90.5,"x":1.03,"y":1.02,"z":1.24,"t":1.3},
{"a":92.5,"x":1.14,"y":1.09,"z":1.18,"t":1.65},
{"a":94.5,"x":1.07,"y":0.98,"z":1.21,"t":1.32},
{"a":96.5,"x":1.12,"y":1.12,"z":1.12,"t":1.55},
{"a":98.5,"x":1.01,"y":1.05,"z":1.25,"t":1.33},
{"a":100.5,"x":1.16,"y":1.01,"z":1.16,"t":1.5},
{"a":102.5,"x":1.06,"y":1.13,"z":1.19,"t":1.48},
{"a":104.5,"x":1.11,"y":1.04,"z":1.08,"t":1.35},
{"a":106.5,"x":1.03,"y":1.1,"z":1.23,"t":1.42},
{"a":108.5,"x":1.14,"y":0.99,"z":1.2,"t":1.45},
{"a":110.5,"x":1.08,"y":1.07,"z":1.14,"t":1.4},
{"a":112.5,"x":1.13,"y":1.11,"z":1.24,"t":1.72},
{"a":114.5,"x":1,"y":1.02,"z":1.16,"t":1.2},
{"a":116.5,"x":1.1,"y":1.15,"z":1.11,"t":1.55},
{"a":118.5,"x":1.05,"y":0.97,"z":1.22,"t":1.28},
{"a":120.5,"x":1.15,"y":1.06,"z":1.15,"t":1.58},
{"a":122.5,"x":1.07,"y":1.1,"z":1.25,"t":1.5},
{"a":124.5,"x":1.12,"y":1,"z":1.1,"t":1.32},
{"a":126.5,"x":1.02,"y":1.08,"z":1.19,"t":1.32},
{"a":128.5,"x":1.13,"y":1.12,"z":1.16,"t":1.6},
{"a":130.5,"x":1.06,"y":1.03,"z":1.23,"t":1.38},
{"a":132.5,"x":1.11,"y":0.98,"z":1.14,"t":1.3},
{"a":134.5,"x":1.04,"y":1.09,"z":1.2,"t":1.4},
{"a":136.5,"x":1.14,"y":1.05,"z":1.09,"t":1.42},
{"a":138.5,"x":1.08,"y":1.11,"z":1.24,"t":1.55},
{"a":140.5,"x":1.01,"y":1,"z":1.17,"t":1.22},
{"a":142.5,"x":1.12,"y":1.07,"z":1.12,"t":1.45},
{"a":143.5,"x":1.06,"y":1.13,"z":1.21,"t":1.48},
{"a":146,"x":1.1,"y":0.99,"z":1.18,"t":1.32},
{"a":150,"x":1.03,"y":1.06,"z":1.14,"t":1.28},
{"a":154,"x":1.13,"y":1.1,"z":1.22,"t":1.58},
{"a":158,"x":1.05,"y":0.97,"z":1.1,"t":1.15},
{"a":162,"x":1.11,"y":1.07,"z":1.25,"t":1.5},
{"a":166,"x":1,"y":1.03,"z":1.17,"t":1.2},
{"a":170,"x":1.09,"y":1.12,"z":1.12,"t":1.42},
{"a":174,"x":1.12,"y":1,"z":1.2,"t":1.38},
{"a":178,"x":1.03,"y":1.08,"z":1.24,"t":1.35},
{"a":182,"x":1.1,"y":1.04,"z":1.11,"t":1.3},
{"a":186,"x":1.06,"y":1.11,"z":1.19,"t":1.4},
{"a":190,"x":1.13,"y":0.99,"z":1.15,"t":1.32},
{"a":194,"x":1.02,"y":1.06,"z":1.22,"t":1.3},
{"a":198,"x":1.08,"y":1.02,"z":1.09,"t":1.22},
{"a":202,"x":1.11,"y":1.1,"z":1.2,"t":1.48},
{"a":206,"x":1.04,"y":0.98,"z":1.16,"t":1.2},
{"a":210,"x":1.07,"y":1.07,"z":1.25,"t":1.42},
{"a":142,"x":1.15,"y":1.02,"z":1.19,"t":1.5},
{"a":143,"x":1.02,"y":1.1,"z":1.08,"t":1.22},
{"a":146.5,"x":1.08,"y":1.04,"z":1.26,"t":1.45},
{"a":150.5,"x":1.12,"y":1.09,"z":1.13,"t":1.5},
{"a":154.5,"x":1.01,"y":1.01,"z":1.2,"t":1.25},
{"a":158.5,"x":1.1,"y":1.12,"z":1.16,"t":1.48},
{"a":218,"x":0.94,"y":1.02,"z":1.12,"t":1.08},
{"a":222,"x":1.1,"y":0.96,"z":1.2,"t":1.28},
{"a":225,"x":0.91,"y":0.98,"z":1.15,"t":1.03},
{"a":226,"x":1.04,"y":1.1,"z":1.08,"t":1.25},
{"a":228,"x":0.96,"y":1.06,"z":1.22,"t":1.24},
{"a":228,"x":1.09,"y":0.95,"z":1.18,"t":1.22},
{"a":228,"x":1.13,"y":1.04,"z":1.1,"t":1.3},
{"a":230,"x":1.02,"y":1.13,"z":1.2,"t":1.38},
{"a":232,"x":0.93,"y":0.99,"z":1.24,"t":1.14},
{"a":235,"x":1.12,"y":1.02,"z":1.14,"t":1.32},
{"a":238,"x":1,"y":0.94,"z":1.17,"t":1.1},
{"a":240,"x":0.97,"y":1.08,"z":1.2,"t":1.26},
{"a":240,"x":1.12,"y":0.97,"z":1.1,"t":1.2},
{"a":240,"x":1.03,"y":1.12,"z":1.25,"t":1.45},
{"a":242,"x":0.94,"y":1.03,"z":1.12,"t":1.08},
{"a":244,"x":1.08,"y":1.08,"z":1.22,"t":1.42},
{"a":248,"x":1.01,"y":0.95,"z":1.15,"t":1.1},
{"a":252,"x":0.95,"y":1.09,"z":1.18,"t":1.22},
{"a":252,"x":1.11,"y":1.01,"z":1.24,"t":1.39},
{"a":252,"x":1.02,"y":0.94,"z":1.11,"t":1.07},
{"a":255,"x":1.15,"y":1.05,"z":1.17,"t":1.42},
{"a":260,"x":0.92,"y":1,"z":1.21,"t":1.12},
{"a":262,"x":1.06,"y":1.11,"z":1.1,"t":1.3},
{"a":264,"x":1.1,"y":0.96,"z":1.19,"t":1.26},
{"a":264,"x":0.98,"y":1.07,"z":1.24,"t":1.3},
{"a":264,"x":1.14,"y":1.02,"z":1.12,"t":1.35},
{"a":267,"x":1.03,"y":0.93,"z":1.2,"t":1.15},
{"a":272,"x":0.96,"y":1.04,"z":1.14,"t":1.14},
{"a":276,"x":1.12,"y":1.06,"z":1.22,"t":1.45},
{"a":276,"x":1,"y":0.95,"z":1.17,"t":1.11},
{"a":276,"x":0.94,"y":1.1,"z":1.1,"t":1.14},
{"a":279,"x":1.07,"y":1.01,"z":1.25,"t":1.35},
{"a":285,"x":1.1,"y":1.09,"z":1.11,"t":1.33},
{"a":288,"x":0.97,"y":1.05,"z":1.2,"t":1.22},
{"a":288,"x":1.13,"y":0.97,"z":1.16,"t":1.27},
{"a":288,"x":1.02,"y":1.12,"z":1.23,"t":1.4},
{"a":291,"x":0.95,"y":0.96,"z":1.13,"t":1.03},
{"a":297,"x":1.08,"y":1.07,"z":1.18,"t":1.36},
{"a":300,"x":1.14,"y":1.01,"z":1.25,"t":1.44},
{"a":300,"x":0.98,"y":1.09,"z":1.12,"t":1.2},
{"a":300,"x":1.04,"y":0.95,"z":1.2,"t":1.19},
{"a":303,"x":1.11,"y":1.04,"z":1.1,"t":1.27},
{"a":309,"x":0.99,"y":1.1,"z":1.22,"t":1.33},
{"a":312,"x":1.13,"y":1.02,"z":1.17,"t":1.35},
{"a":312,"x":0.97,"y":0.96,"z":1.13,"t":1.06},
{"a":315,"x":1.06,"y":1.08,"z":1.26,"t":1.44},
{"a":321,"x":1.02,"y":1.13,"z":1.1,"t":1.27},
{"a":324,"x":1.12,"y":0.98,"z":1.2,"t":1.32},
{"a":327,"x":0.98,"y":1.04,"z":1.16,"t":1.18},
{"a":333,"x":1.09,"y":1.1,"z":1.23,"t":1.48},
{"a":336,"x":1.14,"y":1,"z":1.12,"t":1.28},
{"a":339,"x":1,"y":1.07,"z":1.21,"t":1.3},
{"a":345,"x":1.07,"y":0.96,"z":1.15,"t":1.18},
{"a":348,"x":1.03,"y":1.12,"z":1.25,"t":1.44},
{"a":351,"x":1.11,"y":1.03,"z":1.1,"t":1.26},
{"a":354,"x":0.99,"y":0.99,"z":1.19,"t":1.17},
{"a":357,"x":1.08,"y":1.09,"z":1.14,"t":1.34},
{"a":360,"x":1.13,"y":0.97,"z":1.22,"t":1.34},
{"a":360,"x":1,"y":1.11,"z":1.16,"t":1.29},
{"a":360,"x":1.05,"y":1.01,"z":1.09,"t":1.16},
{"a":364,"x":1.12,"y":0.98,"z":1.19,"t":1.31},
{"a":368,"x":1.01,"y":1.1,"z":1.24,"t":1.38},
{"a":372,"x":1.09,"y":1.03,"z":1.1,"t":1.24},
{"a":377,"x":0.97,"y":1.06,"z":1.2,"t":1.23},
{"a":381,"x":1.14,"y":1.12,"z":1.15,"t":1.47},
{"a":385,"x":1.05,"y":0.96,"z":1.26,"t":1.27},
{"a":389,"x":1.1,"y":1.08,"z":1.12,"t":1.33},
{"a":394,"x":1,"y":1.01,"z":1.17,"t":1.18},
{"a":398,"x":1.16,"y":1.05,"z":1.22,"t":1.48},
{"a":402,"x":1.03,"y":1.13,"z":1.13,"t":1.32},
{"a":406,"x":1.08,"y":0.95,"z":1.19,"t":1.22},
{"a":410,"x":1.12,"y":1.07,"z":1.25,"t":1.5},
{"a":415,"x":0.99,"y":1.03,"z":1.1,"t":1.13},
{"a":419,"x":1.07,"y":1.11,"z":1.21,"t":1.44},
{"a":423,"x":1.13,"y":0.99,"z":1.16,"t":1.3},
{"a":427,"x":1.02,"y":1.06,"z":1.27,"t":1.37},
{"a":431,"x":1.1,"y":1.02,"z":1.11,"t":1.25},
{"a":436,"x":0.96,"y":1.09,"z":1.2,"t":1.25},
{"a":440,"x":1.15,"y":1.04,"z":1.23,"t":1.47},
{"a":444,"x":1.04,"y":0.97,"z":1.14,"t":1.15},
{"a":448,"x":1.09,"y":1.12,"z":1.18,"t":1.44},
{"a":452,"x":1.01,"y":1.05,"z":1.25,"t":1.33},
{"a":457,"x":1.13,"y":1,"z":1.12,"t":1.27},
{"a":461,"x":1.06,"y":1.1,"z":1.2,"t":1.4},
{"a":465,"x":0.98,"y":0.98,"z":1.16,"t":1.12},
{"a":469,"x":1.11,"y":1.07,"z":1.26,"t":1.5},
{"a":473,"x":1.05,"y":1.02,"z":1.1,"t":1.18},
{"a":478,"x":1.14,"y":1.09,"z":1.18,"t":1.46},
{"a":482,"x":1,"y":1.12,"z":1.22,"t":1.37},
{"a":486,"x":1.08,"y":0.96,"z":1.15,"t":1.19},
{"a":490,"x":1.12,"y":1.04,"z":1.24,"t":1.44},
{"a":494,"x":1.03,"y":1.08,"z":1.11,"t":1.24},
{"a":499,"x":0.97,"y":1.01,"z":1.19,"t":1.17},
{"a":503,"x":1.1,"y":1.13,"z":1.14,"t":1.42},
{"a":507,"x":1.06,"y":0.99,"z":1.27,"t":1.33},
{"a":511,"x":1.15,"y":1.06,"z":1.17,"t":1.43},
{"a":515,"x":1.01,"y":1.1,"z":1.21,"t":1.34},
{"a":520,"x":1.09,"y":1,"z":1.12,"t":1.22},
{"a":524,"x":1.04,"y":1.05,"z":1.24,"t":1.32},
{"a":528,"x":1.13,"y":1.11,"z":1.15,"t":1.44},
{"a":532,"x":0.99,"y":0.97,"z":1.2,"t":1.15},
{"a":536,"x":1.07,"y":1.08,"z":1.1,"t":1.27},
{"a":541,"x":1.11,"y":1.03,"z":1.26,"t":1.44},
{"a":545,"x":1.02,"y":1.12,"z":1.17,"t":1.34},
{"a":549,"x":1.16,"y":0.98,"z":1.21,"t":1.38},
{"a":553,"x":1.05,"y":1.07,"z":1.13,"t":1.27},
{"a":557,"x":0.98,"y":1.02,"z":1.24,"t":1.24},
{"a":562,"x":1.1,"y":1.09,"z":1.16,"t":1.4},
{"a":566,"x":1.03,"y":0.95,"z":1.2,"t":1.18},
{"a":570,"x":1.13,"y":1.06,"z":1.12,"t":1.34},
{"a":574,"x":1.06,"y":1.13,"z":1.25,"t":1.49},
{"a":578,"x":1,"y":1,"z":1.15,"t":1.15},
{"a":583,"x":1.12,"y":1.08,"z":1.2,"t":1.45},
{"a":587,"x":1.04,"y":1.04,"z":1.27,"t":1.37},
{"a":591,"x":1.09,"y":0.97,"z":1.14,"t":1.2},
{"a":595,"x":0.97,"y":1.1,"z":1.19,"t":1.27},
{"a":599,"x":1.14,"y":1.05,"z":1.23,"t":1.47},
{"a":604,"x":1.05,"y":1.11,"z":1.11,"t":1.3},
{"a":608,"x":1.1,"y":1,"z":1.26,"t":1.39},
{"a":612,"x":1.01,"y":1.06,"z":1.17,"t":1.25},
{"a":616,"x":1.15,"y":1.09,"z":1.14,"t":1.43},
{"a":620,"x":1.03,"y":0.96,"z":1.22,"t":1.21},
{"a":625,"x":1.08,"y":1.12,"z":1.18,"t":1.43},
{"a":629,"x":0.99,"y":1.03,"z":1.12,"t":1.15},
{"a":633,"x":1.12,"y":1.07,"z":1.25,"t":1.5},
{"a":637,"x":1.06,"y":0.99,"z":1.16,"t":1.22},
{"a":641,"x":1.02,"y":1.1,"z":1.2,"t":1.35},
{"a":646,"x":1.13,"y":1.04,"z":1.1,"t":1.29},
{"a":650,"x":1.07,"y":1.08,"z":1.27,"t":1.47},
{"a":654,"x":0.98,"y":0.98,"z":1.19,"t":1.15},
{"a":658,"x":1.11,"y":1.13,"z":1.15,"t":1.44},
{"a":662,"x":1.04,"y":1.01,"z":1.22,"t":1.28},
{"a":667,"x":1.15,"y":1.06,"z":1.18,"t":1.44},
{"a":671,"x":1,"y":1.09,"z":1.13,"t":1.23},
{"a":675,"x":1.09,"y":0.97,"z":1.24,"t":1.31},
{"a":679,"x":1.05,"y":1.11,"z":1.17,"t":1.36},
{"a":683,"x":1.12,"y":1.02,"z":1.21,"t":1.38},
{"a":688,"x":1.01,"y":1.07,"z":1.11,"t":1.2},
{"a":692,"x":1.08,"y":1.12,"z":1.26,"t":1.52},
{"a":696,"x":1.13,"y":0.99,"z":1.16,"t":1.3},
{"a":700,"x":1.03,"y":1.04,"z":1.23,"t":1.32},
{"a":704,"x":1.1,"y":1.1,"z":1.13,"t":1.37},
{"a":709,"x":0.99,"y":1,"z":1.2,"t":1.19},
{"a":713,"x":1.07,"y":1.08,"z":1.16,"t":1.34},
{"a":718,"x":1.14,"y":1.03,"z":1.25,"t":1.47},
{"a":720,"x":1.02,"y":1.11,"z":1.19,"t":1.35},
{"a":724,"x":1.1,"y":0.98,"z":1.14,"t":1.23},
{"a":728,"x":1.05,"y":1.06,"z":1.26,"t":1.4},
{"a":732,"x":1.13,"y":1.12,"z":1.17,"t":1.48},
{"a":736,"x":0.98,"y":1.02,"z":1.21,"t":1.21},
{"a":740,"x":1.08,"y":1.09,"z":1.12,"t":1.32},
{"a":744,"x":1.12,"y":0.97,"z":1.23,"t":1.34},
{"a":748,"x":1.01,"y":1.1,"z":1.18,"t":1.31},
{"a":752,"x":1.1,"y":1.04,"z":1.26,"t":1.44},
{"a":756,"x":1.04,"y":1,"z":1.14,"t":1.19},
{"a":760,"x":1.15,"y":1.08,"z":1.2,"t":1.49},
{"a":764,"x":1.02,"y":1.13,"z":1.24,"t":1.43},
{"a":768,"x":1.09,"y":1.01,"z":1.11,"t":1.22},
{"a":772,"x":0.99,"y":1.07,"z":1.22,"t":1.3},
{"a":776,"x":1.12,"y":1.11,"z":1.16,"t":1.45},
{"a":780,"x":1.06,"y":0.98,"z":1.26,"t":1.31},
{"a":784,"x":1.11,"y":1.05,"z":1.13,"t":1.32},
{"a":788,"x":1.03,"y":1.1,"z":1.2,"t":1.36},
{"a":792,"x":1.08,"y":0.96,"z":1.17,"t":1.21},
{"a":796,"x":1.14,"y":1.07,"z":1.25,"t":1.53},
{"a":800,"x":1,"y":1.03,"z":1.12,"t":1.15},
{"a":804,"x":1.07,"y":1.12,"z":1.21,"t":1.45},
{"a":808,"x":1.12,"y":1,"z":1.18,"t":1.32},
{"a":812,"x":1.04,"y":1.06,"z":1.27,"t":1.4},
{"a":816,"x":1.1,"y":1.1,"z":1.14,"t":1.38},
{"a":820,"x":0.98,"y":0.97,"z":1.2,"t":1.14},
{"a":824,"x":1.13,"y":1.05,"z":1.23,"t":1.46},
{"a":828,"x":1.05,"y":1.11,"z":1.16,"t":1.36},
{"a":832,"x":1.09,"y":0.99,"z":1.25,"t":1.35},
{"a":836,"x":1.01,"y":1.07,"z":1.11,"t":1.2},
{"a":840,"x":1.12,"y":1.04,"z":1.2,"t":1.4},
{"a":844,"x":1.06,"y":1.12,"z":1.24,"t":1.48},
{"a":848,"x":1.1,"y":0.98,"z":1.15,"t":1.24},
{"a":852,"x":1.03,"y":1.06,"z":1.21,"t":1.32},
{"a":856,"x":1.14,"y":1.09,"z":1.13,"t":1.4},
{"a":860,"x":1,"y":1.01,"z":1.26,"t":1.27},
{"a":864,"x":1.08,"y":1.11,"z":1.19,"t":1.43},
{"a":868,"x":1.11,"y":0.97,"z":1.17,"t":1.26},
{"a":872,"x":1.04,"y":1.05,"z":1.23,"t":1.34},
{"a":876,"x":1.1,"y":1.09,"z":1.12,"t":1.35},
{"a":880,"x":0.99,"y":1.02,"z":1.2,"t":1.21},
{"a":884,"x":1.13,"y":1.06,"z":1.25,"t":1.5},
{"a":888,"x":1.05,"y":1.12,"z":1.15,"t":1.35},
{"a":892,"x":1.09,"y":1,"z":1.22,"t":1.33},
{"a":896,"x":1.02,"y":1.08,"z":1.17,"t":1.29},
{"a":904,"x":1.08,"y":1.03,"z":1.24,"t":1.38},
{"a":915,"x":1.03,"y":1.1,"z":1.15,"t":1.31},
{"a":928,"x":1.12,"y":0.99,"z":1.2,"t":1.33},
{"a":951,"x":1.05,"y":1.06,"z":1.26,"t":1.4},
{"a":960,"x":1,"y":1.09,"z":1.25,"t":1.36},
{"a":975,"x":1.1,"y":1.11,"z":1.14,"t":1.39},
{"a":992,"x":0.99,"y":1.02,"z":1.21,"t":1.22},
{"a":1012,"x":1.08,"y":1.07,"z":1.17,"t":1.35},
{"a":1025,"x":1.04,"y":0.98,"z":1.24,"t":1.26},
{"a":1040,"x":1.1,"y":1.05,"z":1.19,"t":1.37}
]},
"spacing": -98,
"vconcat": [
 {"spacing": 26, "hconcat": [
  {"width": 326, "height": 263,
   "layer": [
    {"mark": {"type": "point", "shape": "circle", "filled": false, "size": 20, "strokeWidth": 1, "color": "#c8c8c8", "opacity": 1},
     "encoding": {
      "x": {"field": "a", "type": "quantitative", "scale": {"domain": [0, 1043], "nice": false, "zero": false}, "axis": {"orient": "bottom", "values": [0,120,240,360,480,600,720,840,960], "labels": false, "tickSize": -3.5, "title": null}},
      "y": {"field": "x", "type": "quantitative", "scale": {"domain": [0.9, 2], "nice": false, "zero": false}, "axis": {"orient": "left", "values": [1,1.2,1.4,1.6,1.8,2], "labelExpr": "toString(datum.value)", "tickSize": -3.5, "labelPadding": 9.5, "title": " ", "titleX": -66, "titleY": 130, "titleAngle": 270, "titleAlign": "center", "titleBaseline": "middle", "titleFontSize": 19.5}}
     }},
    {"data": {"values": [{"g": 72}, {"g": 144}, {"g": 216}]},
     "mark": {"type": "rule", "color": "#8c8c8c", "strokeWidth": 1, "strokeDash": [1, 1.5]},
     "encoding": {
      "x": {"field": "g", "type": "quantitative", "axis": {"orient": "top", "values": [0,120,240,360,480,600,720,840,960], "labels": false, "tickSize": -3.5, "title": null}},
      "y": {"datum": 0.9, "type": "quantitative", "axis": {"orient": "right", "values": [1,1.2,1.4,1.6,1.8,2], "labels": false, "tickSize": -3.5, "title": null}},
      "y2": {"datum": 2}
     }},
    {"data": {"values": [{"label": "Scaling in X"}]},
     "mark": {"type": "text", "font": "Liberation Sans", "fontSize": 22, "color": "#000000", "align": "center", "baseline": "alphabetic"},
     "encoding": {
      "text": {"field": "label"},
      "x": {"datum": 521.5, "type": "quantitative", "axis": null},
      "y": {"datum": 1.879, "type": "quantitative", "axis": null}
     }}
   ],
   "resolve": {"axis": {"x": "independent", "y": "independent"}}
  },
  {"width": 326, "height": 263,
   "layer": [
    {"mark": {"type": "point", "shape": "circle", "filled": false, "size": 20, "strokeWidth": 1, "color": "#c8c8c8", "opacity": 1},
     "encoding": {
      "x": {"field": "a", "type": "quantitative", "scale": {"domain": [0, 1043], "nice": false, "zero": false}, "axis": {"orient": "bottom", "values": [0,120,240,360,480,600,720,840,960], "labels": false, "tickSize": -3.5, "title": null}},
      "y": {"field": "y", "type": "quantitative", "scale": {"domain": [0.9, 2], "nice": false, "zero": false}, "axis": {"orient": "left", "values": [1,1.2,1.4,1.6,1.8,2], "labels": false, "tickSize": -3.5, "title": null}}
     }},
    {"data": {"values": [{"g": 72}, {"g": 144}, {"g": 216}]},
     "mark": {"type": "rule", "color": "#8c8c8c", "strokeWidth": 1, "strokeDash": [1, 1.5]},
     "encoding": {
      "x": {"field": "g", "type": "quantitative", "axis": {"orient": "top", "values": [0,120,240,360,480,600,720,840,960], "labels": false, "tickSize": -3.5, "title": null}},
      "y": {"datum": 0.9, "type": "quantitative", "axis": {"orient": "right", "values": [1,1.2,1.4,1.6,1.8,2], "labels": false, "tickSize": -3.5, "title": null}},
      "y2": {"datum": 2}
     }},
    {"data": {"values": [{"label": "Scaling in Y"}]},
     "mark": {"type": "text", "font": "Liberation Sans", "fontSize": 22, "color": "#000000", "align": "center", "baseline": "alphabetic"},
     "encoding": {
      "text": {"field": "label"},
      "x": {"datum": 521.5, "type": "quantitative", "axis": null},
      "y": {"datum": 1.879, "type": "quantitative", "axis": null}
     }}
   ],
   "resolve": {"axis": {"x": "independent", "y": "independent"}}
  },
  {"width": 326, "height": 263,
   "layer": [
    {"mark": {"type": "point", "shape": "circle", "filled": false, "size": 20, "strokeWidth": 1, "color": "#c8c8c8", "opacity": 1},
     "encoding": {
      "x": {"field": "a", "type": "quantitative", "scale": {"domain": [0, 1043], "nice": false, "zero": false}, "axis": {"orient": "bottom", "values": [0,120,240,360,480,600,720,840,960], "labels": false, "tickSize": -3.5, "title": null}},
      "y": {"field": "z", "type": "quantitative", "scale": {"domain": [0.9, 2], "nice": false, "zero": false}, "axis": {"orient": "left", "values": [1,1.2,1.4,1.6,1.8,2], "labels": false, "tickSize": -3.5, "title": null}}
     }},
    {"data": {"values": [{"g": 72}, {"g": 144}, {"g": 216}]},
     "mark": {"type": "rule", "color": "#8c8c8c", "strokeWidth": 1, "strokeDash": [1, 1.5]},
     "encoding": {
      "x": {"field": "g", "type": "quantitative", "axis": {"orient": "top", "values": [0,120,240,360,480,600,720,840,960], "labels": false, "tickSize": -3.5, "title": null}},
      "y": {"datum": 0.9, "type": "quantitative", "axis": {"orient": "right", "values": [1,1.2,1.4,1.6,1.8,2], "labels": false, "tickSize": -3.5, "title": null}},
      "y2": {"datum": 2}
     }},
    {"data": {"values": [{"label": "Scaling in Z"}]},
     "mark": {"type": "text", "font": "Liberation Sans", "fontSize": 22, "color": "#000000", "align": "center", "baseline": "alphabetic"},
     "encoding": {
      "text": {"field": "label"},
      "x": {"datum": 521.5, "type": "quantitative", "axis": null},
      "y": {"datum": 1.879, "type": "quantitative", "axis": null}
     }}
   ],
   "resolve": {"axis": {"x": "independent", "y": "independent"}}
  }
 ]},
 {"width": 1052, "height": 263,
  "layer": [
   {"mark": {"type": "point", "shape": "circle", "filled": false, "size": 20, "strokeWidth": 1, "color": "#0072BD", "opacity": 1},
    "encoding": {
     "x": {"field": "a", "type": "quantitative", "scale": {"domain": [0, 1043], "nice": false, "zero": false}, "axis": {"orient": "bottom", "values": [0,120,240,360,480,600,720,840,960], "labelExpr": "toString(datum.value)", "tickSize": -10, "labelPadding": 22, "title": "Age [months]", "titleFontSize": 21, "titleX": 502, "titleY": 57, "titleAlign": "center", "titleBaseline": "middle"}},
     "y": {"field": "t", "type": "quantitative", "scale": {"domain": [0.9, 5.5], "nice": false, "zero": false}, "axis": {"orient": "left", "values": [1.5,2.5,3.5,4.5,5.5], "labelExpr": "toString(datum.value)", "tickSize": -10, "labelPadding": 16, "title": "Affine Scaling factors", "titleFontSize": 19.5, "titleX": -66, "titleY": -20, "titleAngle": 270, "titleAlign": "center", "titleBaseline": "middle"}}
    }},
   {"data": {"values": [{"g": 72}, {"g": 144}, {"g": 216}]},
    "mark": {"type": "rule", "color": "#8c8c8c", "strokeWidth": 1, "strokeDash": [1, 1.5]},
    "encoding": {
     "x": {"field": "g", "type": "quantitative", "axis": {"orient": "top", "values": [0,120,240,360,480,600,720,840,960], "labels": false, "tickSize": -10, "title": null}},
     "y": {"datum": 0.9, "type": "quantitative", "axis": {"orient": "right", "values": [1.5,2.5,3.5,4.5,5.5], "labels": false, "tickSize": -10, "title": null}},
     "y2": {"datum": 5}
    }},
   {"data": {"values": [{"label": "Total scaling (X*Y*Z)"}]},
    "mark": {"type": "text", "font": "Liberation Sans", "fontSize": 22, "color": "#000000", "align": "center", "baseline": "alphabetic"},
    "encoding": {
     "text": {"field": "label"},
     "x": {"datum": 521.5, "type": "quantitative", "axis": null},
     "y": {"datum": 4.928, "type": "quantitative", "axis": null}
    }}
  ],
  "resolve": {"axis": {"x": "independent", "y": "independent"}}
 }
]
}
